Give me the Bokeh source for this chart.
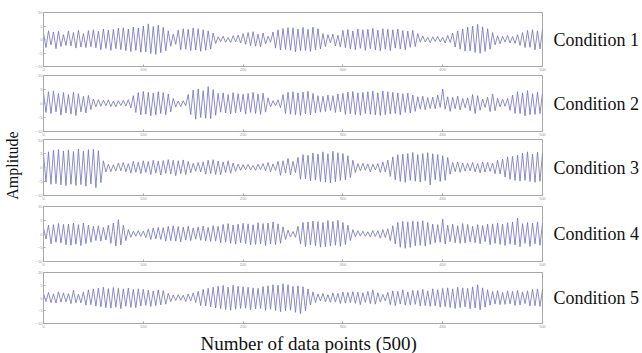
import numpy as np
from bokeh.plotting import figure
from bokeh.layouts import column, row
from bokeh.models import FixedTicker, LinearAxis, Range1d, Title
from bokeh.embed import file_html
from bokeh.resources import INLINE

# Extrema (alternating peak / trough), evenly spread over 0..500 data points
cond1 = [2.5,-3.0,3.2,-2.0,2.8,-3.4,3.0,-2.6,1.8,-2.2,
         3.1,-2.4,2.6,-3.2,3.4,-2.8,2.2,-3.0,3.3,-2.7,
         3.6,-3.1,3.0,-3.8,3.9,-3.3,3.5,-4.0,3.7,-3.4,
         4.2,-3.8,4.4,-4.1,3.9,-4.5,4.6,-4.0,4.3,-4.7,
         5.0,-4.6,5.8,-5.2,4.8,-5.5,5.3,-4.9,4.5,-4.2,
         3.2,-2.5,2.0,-1.8,3.5,-3.8,4.0,-3.6,3.8,-4.1,
         4.3,-3.9,4.0,-4.4,3.6,-4.0,3.2,-3.5,2.4,-1.5,
         1.0,-0.8,1.2,-1.0,0.7,-1.1,1.4,-0.9,1.6,-1.3,
         2.2,-1.8,2.6,-2.3,2.9,-2.5,2.0,-2.7,2.4,-1.6,
         1.2,-1.0,2.8,-3.2,3.6,-3.9,4.1,-3.7,4.4,-4.0,
         4.3,-4.6,3.9,-4.2,4.5,-4.1,3.8,-4.4,4.6,-3.9,
         4.0,-3.5,2.2,-2.6,1.8,-1.2,2.0,-2.4,1.6,-2.8,
         3.4,-3.0,3.7,-3.5,3.2,-3.8,3.9,-3.3,3.6,-4.0,
         3.8,-3.4,4.1,-3.9,3.5,-4.2,4.0,-3.6,3.8,-4.1,
         3.6,-3.2,3.9,-3.5,3.3,-3.8,3.1,-2.9,3.4,-2.6,
         2.2,-1.0,1.3,-0.9,0.8,-1.2,1.0,-0.7,1.1,-0.9,
         0.8,-1.3,1.5,-1.1,2.4,-2.8,3.2,-3.6,3.9,-4.3,
         4.6,-4.2,5.0,-4.8,5.6,-5.1,4.7,-4.4,4.0,-3.6,
         2.6,-2.0,1.4,-1.6,1.2,-1.0,1.5,-1.3,1.1,-1.4,
         1.8,-2.2,2.6,-3.0,3.4,-2.9,3.6,-3.8,3.2,-3.5,
         3.8]
cond2 = [3.8,-3.2,4.2,-3.6,4.5,-3.0,3.6,-4.1,3.9,-3.4,
         3.2,-3.8,4.0,-4.3,3.5,-3.0,2.6,-3.4,2.9,-2.2,
         1.6,-1.2,1.4,-1.0,1.2,-0.8,1.3,-1.1,0.9,-1.2,
         1.0,-0.7,1.1,-0.9,1.4,-1.6,2.8,-3.2,3.9,-4.1,
         4.3,-3.8,4.0,-4.4,3.7,-4.1,4.2,-3.6,3.9,-4.0,
         3.4,-3.0,1.8,-1.2,0.9,-1.1,1.0,-0.8,3.2,-4.0,
         4.8,-5.6,5.2,-5.0,4.6,-5.3,6.0,-5.4,5.0,-4.2,
         3.6,-3.1,3.8,-3.4,3.2,-3.7,3.9,-3.3,3.5,-3.0,
         3.3,-3.8,3.6,-3.2,4.0,-3.6,3.4,-3.9,3.7,-3.1,
         2.0,-1.2,1.0,-0.8,1.3,-1.5,3.2,-3.6,4.0,-3.8,
         4.2,-4.0,3.8,-4.3,4.1,-3.7,4.4,-4.0,3.6,-3.3,
         2.8,-3.1,2.6,-2.9,3.0,-2.5,2.8,-3.2,3.4,-3.0,
         3.6,-3.9,4.1,-3.7,4.3,-4.0,3.8,-4.2,4.0,-3.6,
         4.2,-3.9,4.4,-4.1,3.8,-4.3,4.5,-4.0,4.2,-3.8,
         4.0,-3.6,3.8,-4.1,3.5,-3.2,3.7,-3.4,3.0,-2.8,
         2.4,-2.0,2.6,-2.2,2.1,-1.8,2.3,-1.9,3.0,-1.4,
         5.2,-2.0,2.4,-2.8,2.2,-1.9,2.6,-2.3,1.8,-1.5,
         2.0,-2.6,3.2,-3.6,2.8,-2.4,1.6,-1.4,2.2,-2.9,
         3.4,-2.6,1.8,-1.2,1.5,-1.0,1.8,-2.4,3.0,-3.5,
         4.2,-3.6,3.8,-4.4,4.6,-4.0,3.5,-3.9,4.1,-3.6,
         3.8]
cond3 = [4.8,-5.2,5.6,-6.0,6.2,-5.8,6.4,-6.2,5.9,-6.5,
         6.3,-6.0,5.7,-6.4,6.6,-6.1,5.8,-6.7,6.4,-5.9,
         6.5,-7.2,6.0,-5.4,2.4,-1.6,1.2,-1.5,1.0,-1.3,
         1.6,-1.2,1.8,-1.5,1.4,-2.0,2.2,-1.7,1.9,-2.2,
         2.4,-1.8,2.1,-2.5,2.6,-2.0,2.3,-2.7,2.5,-2.1,
         2.8,-2.3,2.6,-2.9,2.4,-2.2,2.7,-2.5,2.2,-1.9,
         1.5,-1.3,1.8,-1.6,2.0,-2.4,2.6,-2.2,2.8,-2.5,
         2.3,-2.6,2.0,-1.8,2.4,-2.1,1.6,-1.4,1.2,-1.0,
         1.0,-0.8,1.1,-0.9,0.7,-1.0,1.2,-0.8,1.4,-1.2,
         1.8,-1.5,1.3,-1.1,2.2,-2.8,2.4,-2.0,3.2,-2.6,
         2.2,-1.8,3.6,-4.2,4.6,-4.0,4.4,-4.8,5.2,-4.5,
         4.8,-5.0,5.6,-5.2,4.9,-5.4,5.8,-5.1,5.3,-4.6,
         5.0,-4.4,4.2,-3.6,2.6,-1.8,1.4,-1.2,1.5,-1.0,
         1.3,-1.6,1.2,-0.9,1.4,-1.8,2.0,-1.6,2.6,-3.2,
         3.8,-4.4,4.6,-5.0,4.8,-5.3,5.0,-4.6,5.4,-4.9,
         4.6,-5.2,5.0,-4.7,5.3,-6.2,4.9,-4.4,4.6,-5.0,
         4.2,-4.6,3.6,-2.4,1.8,-1.5,2.0,-1.7,1.6,-1.3,
         1.5,-1.2,1.8,-1.6,1.4,-1.9,2.0,-1.6,1.8,-1.4,
         1.6,-2.2,2.6,-2.3,3.0,-3.4,3.8,-4.2,4.0,-4.6,
         4.4,-4.8,5.2,-4.6,5.6,-5.0,4.8,-5.3,5.5,-4.9,
         5.2]
cond4 = [2.2,-1.8,3.2,-3.6,3.4,-3.0,3.8,-3.3,3.5,-3.9,
         3.6,-4.1,4.0,-3.7,3.4,-4.2,4.0,-3.5,3.2,-3.0,
         2.8,-2.4,3.0,-2.6,2.4,-2.2,3.2,-3.4,4.0,-4.4,
         5.2,-4.0,3.2,-2.4,1.6,-1.2,1.0,-0.8,1.2,-0.9,
         1.1,-1.3,1.8,-2.0,2.2,-1.8,2.4,-2.0,2.3,-2.6,
         2.8,-2.4,3.0,-2.6,2.7,-2.9,2.5,-2.2,2.8,-2.4,
         2.2,-1.9,2.6,-2.3,2.9,-2.5,2.4,-2.7,3.0,-2.6,
         2.8,-3.2,3.5,-3.0,3.8,-3.4,3.3,-3.7,3.6,-3.2,
         3.9,-3.5,3.7,-4.0,3.4,-3.8,4.1,-3.6,3.8,-4.2,
         4.0,-3.6,4.4,-3.9,3.7,-3.4,2.6,-2.0,1.4,-1.1,
         0.9,-1.2,2.8,-3.6,4.2,-4.6,4.4,-4.0,4.7,-4.3,
         4.5,-4.8,4.2,-4.6,4.9,-4.4,4.6,-4.1,5.0,-4.5,
         4.2,-3.8,3.2,-2.4,1.6,-1.0,1.2,-0.8,1.0,-0.9,
         0.8,-1.1,1.3,-0.9,1.2,-1.5,1.6,-1.3,1.9,-2.4,
         3.0,-3.6,4.2,-4.8,4.6,-5.2,4.4,-4.9,4.7,-4.3,
         4.5,-4.1,4.8,-4.4,4.2,-3.8,3.6,-3.2,3.4,-3.0,
         5.4,-3.6,3.2,-2.8,3.6,-3.2,3.0,-3.4,3.8,-3.3,
         3.5,-3.0,2.8,-3.2,3.4,-3.6,3.1,-2.8,3.6,-3.9,
         3.7,-3.4,4.0,-3.8,3.6,-4.2,4.1,-3.7,4.4,-4.0,
         5.8,-4.6,3.8,-3.4,4.2,-4.5,4.0,-3.6,4.4,-4.1,
         3.8]
cond5 = [1.8,-1.4,2.2,-1.8,1.6,-2.0,2.4,-1.6,2.0,-1.5,
         1.7,-2.2,3.0,-1.8,1.5,-1.9,2.4,-2.8,3.2,-2.6,
         3.6,-3.2,3.9,-3.5,4.2,-3.8,3.7,-4.0,4.1,-3.6,
         3.8,-4.2,3.6,-3.3,3.9,-3.7,3.4,-3.8,3.6,-3.1,
         3.4,-2.9,3.1,-3.3,2.8,-3.0,3.2,-2.7,2.9,-2.4,
         1.8,-1.4,1.2,-1.0,1.3,-0.9,1.1,-1.4,1.6,-1.2,
         2.0,-1.8,2.6,-3.0,3.4,-3.1,3.8,-3.5,4.2,-3.9,
         4.6,-4.2,4.9,-4.5,4.3,-4.8,5.0,-4.4,4.6,-4.1,
         4.4,-4.0,4.2,-4.6,4.0,-4.3,3.8,-4.1,4.5,-4.8,
         4.8,-4.4,5.2,-4.9,5.0,-5.4,5.6,-5.0,5.2,-4.8,
         4.6,-5.6,4.8,-6.2,4.4,-5.0,3.6,-2.8,2.4,-1.8,
         1.6,-1.2,1.8,-1.5,1.3,-1.7,2.0,-1.6,1.8,-2.2,
         2.4,-2.0,2.2,-1.8,2.5,-2.1,2.3,-2.6,2.0,-1.7,
         2.6,-2.2,3.2,-2.4,2.0,-1.6,1.4,-1.2,2.2,-2.6,
         2.8,-3.0,2.6,-2.4,3.2,-2.8,2.4,-2.7,3.0,-2.5,
         2.9,-3.2,3.4,-3.0,2.8,-3.3,3.6,-3.1,3.3,-3.6,
         3.8,-3.4,4.0,-3.7,3.6,-4.1,4.2,-3.8,4.0,-3.5,
         3.8,-4.2,4.4,-3.9,5.2,-4.6,4.0,-3.6,3.2,-2.8,
         2.6,-2.4,2.9,-2.6,2.2,-2.5,2.8,-2.3,2.6,-2.9,
         3.0,-2.7,2.4,-2.2,2.8,-3.1,3.4,-3.0,3.6,-3.3,
         3.4]

series = [cond1, cond2, cond3, cond4, cond5]
names = ["Condition 1", "Condition 2", "Condition 3", "Condition 4", "Condition 5"]
x_ticks = [0, 100, 200, 300, 400, 500]
y_ticks = [-10, -5, 0, 5, 10]
n_points = 500

LINE = "#7070ba"
GRAY = "#a8a8a8"
SERIF = "Liberation Serif"
INK = "#111111"

# (height, top border, bottom border) of each stacked panel figure
panel_box = [(73, 12, 6), (65, 2, 6), (64, 1, 6), (66, 4, 6), (85, 4, 25)]
LEFT_W = 24

figs = []
for i, (vals, name) in enumerate(zip(series, names)):
    last = i == len(series) - 1
    h, top, bottom = panel_box[i]
    p = figure(width=642 - LEFT_W, height=h, output_backend="svg", toolbar_location=None,
               x_range=Range1d(0, n_points), y_range=Range1d(-10, 10),
               min_border_left=43 - LEFT_W, min_border_right=100,
               min_border_top=top, min_border_bottom=bottom)
    p.title.visible = False
    xs = np.linspace(0, n_points, len(vals))
    p.line(xs, vals, line_color=LINE, line_width=0.8)
    p.grid.visible = False
    p.outline_line_color = GRAY
    for ax, ticks in ((p.xaxis, x_ticks), (p.yaxis, y_ticks)):
        ax.ticker = FixedTicker(ticks=ticks)
        ax.axis_line_color = GRAY
        ax.major_tick_line_color = GRAY
        ax.major_tick_in = 2
        ax.major_tick_out = 0
        ax.minor_tick_line_color = None
        ax.major_label_text_font_size = "4px"
        ax.major_label_text_color = "#999999"
        ax.major_label_standoff = 1

    # right-hand condition label, written as a horizontal axis label
    rax = LinearAxis(ticker=FixedTicker(ticks=[]), axis_line_color=None,
                     major_tick_line_color=None, minor_tick_line_color=None,
                     major_tick_in=0, major_tick_out=0,
                     major_label_text_font_size="0px", major_label_standoff=0,
                     axis_label=name, axis_label_orientation="horizontal",
                     axis_label_standoff=11, axis_label_text_font=SERIF,
                     axis_label_text_font_style="normal",
                     axis_label_text_font_size="18px", axis_label_text_color=INK)
    p.add_layout(rax, "right")

    if last:
        p.add_layout(Title(text="Number of data points (500)", align="left", offset=157,
                           text_font=SERIF, text_font_style="normal",
                           text_font_size="19px", text_color=INK, standoff=0), "below")
    figs.append(p)

# narrow strip on the left that carries the shared "Amplitude" label
amp = figure(width=LEFT_W, height=353, output_backend="svg", toolbar_location=None,
             x_range=Range1d(0, 1), y_range=Range1d(-10, 10),
             min_border_left=LEFT_W - 2, min_border_right=0,
             min_border_top=0, min_border_bottom=23)
amp.title.visible = False
amp.outline_line_color = None
amp.grid.visible = False
amp.xaxis.visible = False
amp.yaxis.ticker = FixedTicker(ticks=[])
amp.yaxis.axis_line_color = None
amp.yaxis.major_tick_in = 0
amp.yaxis.major_tick_out = 0
amp.yaxis.major_label_text_font_size = "0px"
amp.yaxis.major_label_standoff = 0
amp.yaxis.axis_label = "Amplitude"
amp.yaxis.axis_label_standoff = 2
amp.yaxis.axis_label_text_font = SERIF
amp.yaxis.axis_label_text_font_style = "normal"
amp.yaxis.axis_label_text_font_size = "16px"
amp.yaxis.axis_label_text_color = INK

layout = row(amp, column(*figs, spacing=0), spacing=0)
open("out.html", "w").write(file_html(layout, INLINE))
